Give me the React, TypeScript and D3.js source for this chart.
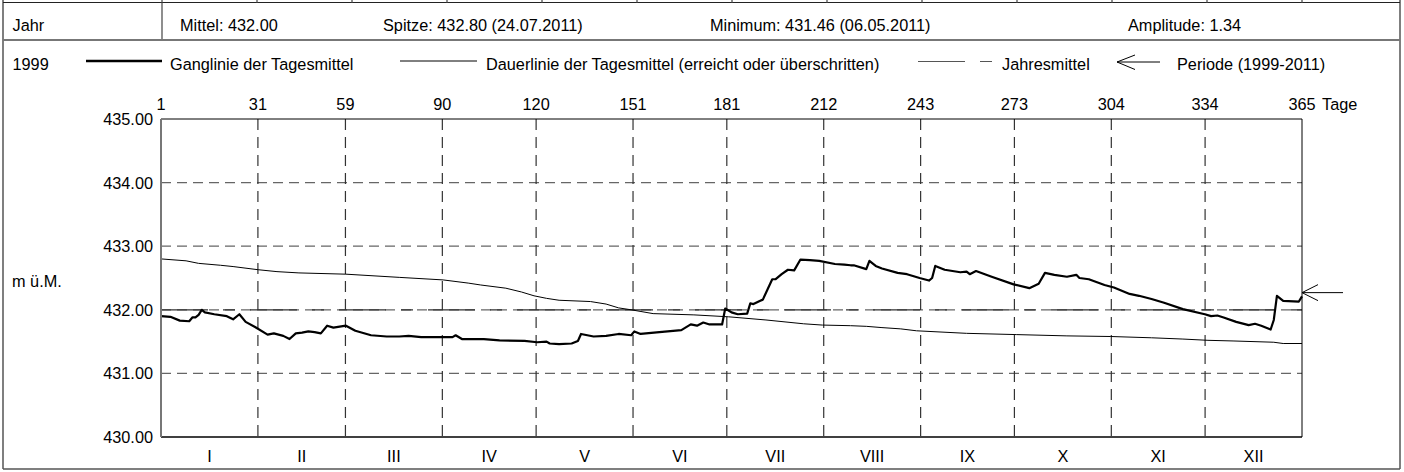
import React from 'react';
import * as d3 from 'd3';

// ---------- data ----------
const dayTicks = [0, 31, 59, 90, 120, 151, 181, 212, 243, 273, 304, 334, 365];
const dayTickLabels = ['1', '31', '59', '90', '120', '151', '181', '212', '243', '273', '304', '334', '365'];
const monthLabels = ['I', 'II', 'III', 'IV', 'V', 'VI', 'VII', 'VIII', 'IX', 'X', 'XI', 'XII'];
const yTicks = [430, 431, 432, 433, 434, 435];

const gangDays = [1, 4, 7, 10, 11, 12, 13, 14, 15, 18, 22, 24, 26, 28, 31, 35, 37, 40, 42, 44, 46, 48, 50, 52, 54, 56, 60, 63, 68, 73, 77, 80, 84, 91, 94, 95, 97, 104, 109, 117, 121, 124, 125, 128, 132, 134, 135, 137, 139, 143, 147, 151, 152, 154, 160, 167, 170, 172, 174, 176, 180, 181, 183, 185, 188, 189, 190, 192, 193, 196, 197, 199, 201, 203, 205, 208, 211, 216, 219, 221, 222, 226, 227, 229, 231, 236, 239, 243, 246, 247, 248, 251, 256, 258, 259, 261, 266, 273, 278, 281, 283, 286, 290, 293, 294, 297, 302, 305, 310, 313, 317, 321, 327, 334, 336, 338, 340, 344, 348, 350, 352, 355, 356, 357, 359, 364, 365];
const gangValues = [431.90, 431.89, 431.83, 431.82, 431.88, 431.88, 431.92, 432.00, 431.96, 431.93, 431.90, 431.85, 431.93, 431.81, 431.73, 431.61, 431.63, 431.59, 431.54, 431.63, 431.64, 431.66, 431.65, 431.63, 431.75, 431.72, 431.75, 431.67, 431.60, 431.58, 431.58, 431.59, 431.57, 431.57, 431.57, 431.60, 431.54, 431.54, 431.52, 431.51, 431.49, 431.50, 431.47, 431.46, 431.47, 431.51, 431.62, 431.60, 431.58, 431.59, 431.62, 431.60, 431.66, 431.62, 431.65, 431.68, 431.77, 431.75, 431.80, 431.77, 431.77, 432.02, 431.96, 431.93, 431.94, 432.10, 432.09, 432.14, 432.16, 432.48, 432.48, 432.56, 432.63, 432.62, 432.79, 432.78, 432.77, 432.72, 432.71, 432.70, 432.70, 432.64, 432.77, 432.69, 432.65, 432.58, 432.56, 432.50, 432.46, 432.50, 432.69, 432.63, 432.59, 432.60, 432.56, 432.61, 432.52, 432.40, 432.34, 432.41, 432.58, 432.55, 432.52, 432.55, 432.50, 432.48, 432.39, 432.35, 432.25, 432.22, 432.17, 432.11, 432.01, 431.93, 431.90, 431.91, 431.88, 431.81, 431.76, 431.78, 431.75, 431.69, 431.84, 432.22, 432.14, 432.13, 432.21];

const dauerDays = [1, 9, 13, 20, 24, 32, 38, 45, 60, 77, 91, 99, 103, 111, 116, 120, 124, 128, 138, 143, 147, 151, 158, 171, 182, 194, 206, 212, 221, 226, 231, 237, 242, 258, 274, 290, 304, 317, 327, 335, 343, 356, 359, 365];
const dauerValues = [432.80, 432.77, 432.73, 432.70, 432.68, 432.63, 432.60, 432.58, 432.56, 432.51, 432.47, 432.42, 432.39, 432.34, 432.28, 432.22, 432.18, 432.15, 432.13, 432.09, 432.03, 432.00, 431.94, 431.92, 431.89, 431.84, 431.78, 431.76, 431.75, 431.74, 431.72, 431.70, 431.67, 431.63, 431.61, 431.59, 431.58, 431.56, 431.54, 431.52, 431.51, 431.49, 431.47, 431.47];

const jahresmittel = 432.0;
const periodeMarker = 432.27;

const headerCells = ['Mittel: 432.00', 'Spitze: 432.80 (24.07.2011)', 'Minimum: 431.46 (06.05.2011)', 'Amplitude: 1.34'];
const legendLabels = ['Ganglinie der Tagesmittel', 'Dauerlinie der Tagesmittel (erreicht oder überschritten)', 'Jahresmittel', 'Periode (1999-2011)'];

// ---------- layout ----------
const W = 1404;
const H = 472;
const PL = 161, PR = 1302, PT = 119, PB = 437;
const FONT = '"Liberation Sans", Arial, sans-serif';

export default function App() {
  React.useEffect(() => {
    document.body.style.margin = '0';
  }, []);

  const x = d3.scaleLinear().domain([0, 365]).range([PL, PR]);
  const xd = d3.scaleLinear().domain([1, 365]).range([PL, PR]);
  const y = d3.scaleLinear().domain([430, 435]).range([PB, PT]);

  const gangPts: [number, number][] = gangDays.map((d, i) => [d, gangValues[i]]);
  const dauerPts: [number, number][] = dauerDays.map((d, i) => [d, dauerValues[i]]);
  const line = d3.line<[number, number]>().x(p => xd(p[0])).y(p => y(p[1]));

  const headerX = [180, 383, 710, 1128];
  const topSeps = d3.range(162, 1303, 95);

  const my = y(periodeMarker);

  return (
    <svg width={W} height={H} style={{ display: 'block', position: 'absolute', left: 0, top: 0 }} fontFamily={FONT} fontSize={16.3}>
      <rect x={0} y={0} width={W} height={H} fill="#fff" />
      {/* outer frame */}
      <line x1={3} y1={0} x2={3} y2={469} stroke="#555" strokeWidth={1.5} />
      <line x1={1400} y1={0} x2={1400} y2={469} stroke="#555" strokeWidth={1.5} />
      <line x1={3} y1={469} x2={1400} y2={469} stroke="#555" strokeWidth={1.5} />
      <line x1={3} y1={2.5} x2={1400} y2={2.5} stroke="#222" strokeWidth={1.2} />
      {topSeps.map((sx, i) => (
        <line key={'ts' + i} x1={sx} y1={0} x2={sx} y2={i === 0 ? 40 : 3} stroke="#444" strokeWidth={1.2} />
      ))}
      <line x1={3} y1={40} x2={1400} y2={40} stroke="#777" strokeWidth={1.8} />

      {/* header */}
      <text x={12.5} y={30.5}>Jahr</text>
      {headerCells.map((t, i) => (
        <text key={'h' + i} x={headerX[i]} y={30.5}>{t}</text>
      ))}

      {/* legend */}
      <text x={12.5} y={70}>1999</text>
      <line x1={86} y1={61} x2={162} y2={61} stroke="#000" strokeWidth={2.5} />
      <text x={170} y={70}>{legendLabels[0]}</text>
      <line x1={400} y1={61} x2={477} y2={61} stroke="#000" strokeWidth={1} />
      <text x={486} y={70}>{legendLabels[1]}</text>
      <line x1={918} y1={61.5} x2={965} y2={61.5} stroke="#555" strokeWidth={1} />
      <line x1={980} y1={61.5} x2={992} y2={61.5} stroke="#555" strokeWidth={1} />
      <text x={1002} y={70}>{legendLabels[2]}</text>
      <line x1={1117} y1={62} x2={1160} y2={62} stroke="#000" strokeWidth={1} />
      <polyline points="1135,55 1117,62 1135,69.5" fill="none" stroke="#000" strokeWidth={1} />
      <text x={1177} y={70}>{legendLabels[3]}</text>

      {/* day ticks */}
      {dayTicks.map((d, i) => (
        <text key={'dt' + i} x={x(d)} y={109.5} textAnchor="middle">{dayTickLabels[i]}</text>
      ))}
      <text x={1322} y={109.5}>Tage</text>

      {/* grid */}
      {yTicks.filter(v => v > 430 && v < 435).map(v => (
        <line key={'gy' + v} x1={PL} x2={PR} y1={y(v)} y2={y(v)} stroke="#666" strokeWidth={1.2} strokeDasharray="10,6" />
      ))}
      {dayTicks.slice(1, -1).map(d => (
        <line key={'gx' + d} x1={x(d)} x2={x(d)} y1={PT} y2={PB} stroke="#333" strokeWidth={1.2} strokeDasharray="11,7" />
      ))}
      <line x1={PL} x2={PR} y1={y(jahresmittel)} y2={y(jahresmittel)} stroke="#333" strokeWidth={1.3} strokeDasharray="47,15,12,15" />

      {/* y ticks */}
      {yTicks.map(v => (
        <text key={'yt' + v} x={153} y={y(v) + 6} textAnchor="end">{v.toFixed(2)}</text>
      ))}
      <text x={12} y={287}>m ü.M.</text>

      {/* month labels */}
      {monthLabels.map((m, i) => (
        <text key={'m' + i} x={x((dayTicks[i] + dayTicks[i + 1]) / 2)} y={461.5} textAnchor="middle">{m}</text>
      ))}

      {/* data */}
      <path d={line(dauerPts) || ''} fill="none" stroke="#000" strokeWidth={1} />
      <path d={line(gangPts) || ''} fill="none" stroke="#000" strokeWidth={2.2} strokeLinejoin="round" />

      {/* axes frame */}
      <line x1={PL} x2={PR} y1={PT} y2={PT} stroke="#000" strokeWidth={1} />
      <line x1={PR} x2={PR} y1={PT} y2={PB} stroke="#000" strokeWidth={1} />
      <line x1={PL} x2={PR} y1={PB} y2={PB} stroke="#000" strokeWidth={1.5} />
      <line x1={PL} x2={PL} y1={PT} y2={PB} stroke="#777" strokeWidth={2} />

      {/* periode marker arrow */}
      <line x1={PR} x2={1343} y1={my} y2={my} stroke="#000" strokeWidth={1} />
      <polyline points={`1318,${my - 8} ${PR},${my} 1318,${my + 8}`} fill="none" stroke="#000" strokeWidth={1} />
    </svg>
  );
}
